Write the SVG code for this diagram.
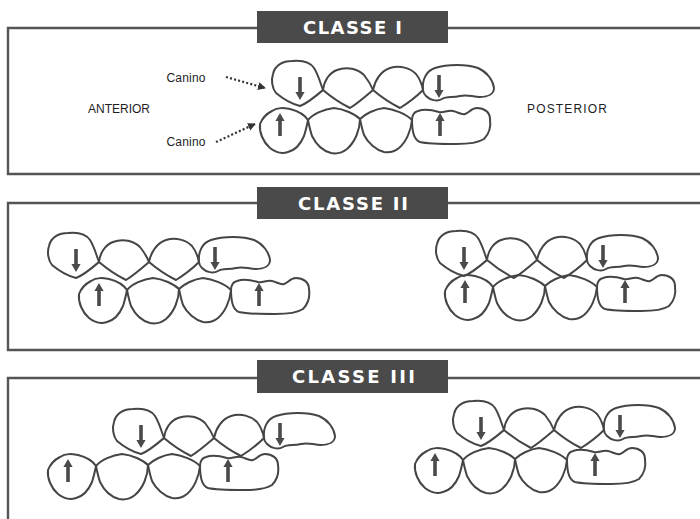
<svg xmlns="http://www.w3.org/2000/svg" xmlns:xlink="http://www.w3.org/1999/xlink" width="700" height="519" viewBox="0 0 700 519">
<style>
.frame{fill:none;stroke:#555;stroke-width:2.4}
.hdr{fill:#4a4a4a}
.hdrtxt{fill:#fff;font-family:"DejaVu Sans",Verdana,sans-serif;font-weight:bold;font-size:18px;text-anchor:middle}
.tooth{fill:none;stroke:#454545;stroke-width:2;stroke-linejoin:round}
.arr{fill:#4a4a4a}
.lbl{fill:#1e1e1e;font-family:"Liberation Sans",Arial,sans-serif;font-size:12px}
.dot{fill:none;stroke:#333;stroke-width:2.2;stroke-dasharray:2 2.2}
</style>
<defs>
<marker id="ah" markerWidth="9" markerHeight="9" refX="7" refY="4.5" orient="auto" markerUnits="userSpaceOnUse">
<path d="M0,0.5 L8,4.5 L0,8.5 Z" fill="#333"/>
</marker>
<path id="adown" class="arr" d="M-1.8,-23 H1.8 V-8 H4.6 L0,0 L-4.6,-8 H-1.8 Z"/>
<path id="aup" class="arr" d="M-1.8,23 H1.8 V8 H4.6 L0,0 L-4.6,8 H-1.8 Z"/>
<g id="upper">
<path class="tooth" d="M51,30 C44,36 36,43 28,46 C20,44 10,38 4,33 C0,28 -1,20 1,14 C3,5 11,1 20,1 C30,0 38,2 42,8 C46,14 48,22 51,30 Z"/>
<path class="tooth" d="M51,30 C52,21 57,13 65,10 C75,6 86,9 92,15 C96,20 99,25 101,30 C94,36 86,43 78,48 C68,43 58,36 51,30 Z"/>
<path class="tooth" d="M101,30 C103,20 109,11 118,8 C128,5 138,8 144,14 C148,19 150,25 151,30 C144,37 136,43 128,48 C118,43 108,36 101,30 Z"/>
<path class="tooth" d="M151,30 C150,20 154,11 163,8 C175,4 195,4 206,8 C215,12 221,20 222,28 C222,34 216,37 208,37 C200,37 196,34 188,36 C180,38 175,36 170,39 C165,42 158,40 154,36 C152,34 151,32 151,30 Z"/>
<use xlink:href="#adown" href="#adown" x="28" y="40"/>
<use xlink:href="#adown" href="#adown" x="167" y="38"/>
</g>
<g id="lower">
<path class="tooth" d="M48,12 C44,6 38,3 30,1 C24,0 18,-1 12,3 C6,6 2,11 0,16 C-1,24 3,34 10,40 C15,44 22,46 28,44 C36,42 41,35 44,28 C46,22 47,17 48,12 Z"/>
<path class="tooth" d="M48,12 C53,6 64,1 74,0 C84,1 95,6 100,11 C100,22 95,34 87,41 C82,45 76,46 71,45 C63,43 56,36 52,28 C50,22 49,17 48,12 Z"/>
<path class="tooth" d="M100,11 C105,6 115,1 124,0 C134,1 146,6 152,12 C151,23 146,34 139,40 C134,44 129,45 124,44 C116,42 108,35 104,27 C102,21 101,16 100,11 Z"/>
<path class="tooth" d="M152,12 C152,7 154,4 158,3 C164,1 172,2 179,4 C184,5 187,2 193,3 C198,4 201,7 205,6 C209,5 211,0 217,0 C224,0 230,4 230,11 C231,18 229,26 224,31 C218,35 208,36 196,36 C182,36 168,36 160,34 C154,32 152,24 152,12 Z"/>
<use xlink:href="#aup" href="#aup" x="20" y="5"/>
<use xlink:href="#aup" href="#aup" x="180" y="5"/>
</g>
</defs>
<rect width="700" height="519" fill="#fff"/>

<g id="classe-1">
<path class="frame" d="M700,28 H8 V174 H700"/>
<rect class="hdr" x="257" y="11" width="191" height="32"/>
<text class="hdrtxt" x="352.5" y="34" textLength="99" lengthAdjust="spacing">CLASSE I</text>
<text class="lbl" x="119" y="113" text-anchor="middle" textLength="62" lengthAdjust="spacing">ANTERIOR</text>
<text class="lbl" x="567" y="113" text-anchor="middle" textLength="80" lengthAdjust="spacing">POSTERIOR</text>
<g id="canino-sup"><text class="lbl" x="186" y="82" text-anchor="middle" font-size="11" textLength="39" lengthAdjust="spacing">Canino</text></g>
<g id="canino-inf"><text class="lbl" x="186" y="146" text-anchor="middle" font-size="11" textLength="39" lengthAdjust="spacing">Canino</text></g>
<g id="c1-upper"><use xlink:href="#upper" href="#upper" x="272" y="60"/></g>
<g id="c1-lower"><use xlink:href="#lower" href="#lower" x="260" y="108"/></g>
</g>

<g id="connectors">
<path class="dot" d="M226,77 L265,88" marker-end="url(#ah)"/>
<path class="dot" d="M216,142 L255,124" marker-end="url(#ah)"/>
</g>

<g id="classe-2">
<path class="frame" d="M700,203 H8 V350 H700"/>
<rect class="hdr" x="257" y="187" width="191" height="32"/>
<text class="hdrtxt" x="353" y="210" textLength="110" lengthAdjust="spacing">CLASSE II</text>
<g id="c2a-upper"><use xlink:href="#upper" href="#upper" x="48" y="232"/></g>
<g id="c2a-lower"><use xlink:href="#lower" href="#lower" x="79" y="278"/></g>
<g id="c2b-upper"><use xlink:href="#upper" href="#upper" x="436" y="230"/></g>
<g id="c2b-lower"><use xlink:href="#lower" href="#lower" x="445" y="275"/></g>
</g>

<g id="classe-3">
<path class="frame" d="M700,378 H8 V519"/>
<rect class="hdr" x="257" y="360" width="191" height="33"/>
<text class="hdrtxt" x="353.5" y="383" textLength="123" lengthAdjust="spacing">CLASSE III</text>
<g id="c3a-upper"><use xlink:href="#upper" href="#upper" x="113" y="408"/></g>
<g id="c3a-lower"><use xlink:href="#lower" href="#lower" x="48" y="454"/></g>
<g id="c3b-upper"><use xlink:href="#upper" href="#upper" x="453" y="400"/></g>
<g id="c3b-lower"><use xlink:href="#lower" href="#lower" x="415" y="448"/></g>
</g>
</svg>
